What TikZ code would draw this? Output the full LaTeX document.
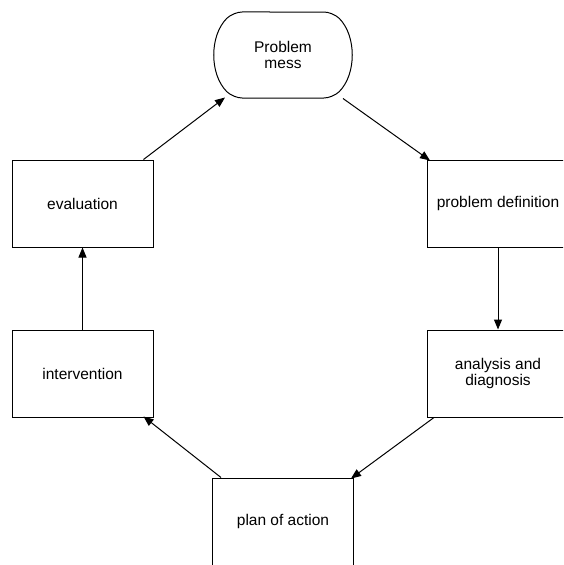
\documentclass[tikz,border=0pt]{standalone}
\usepackage{fontspec}
\setmainfont{Liberation Sans}
\usetikzlibrary{arrows.meta,shapes.misc}

\tikzset{
  stagebox/.style={draw, line width=1pt, minimum width=141pt, minimum height=87pt,
    inner sep=2pt, align=center, font=\fontsize{15.5}{16.5}\selectfont},
  startbox/.style={draw, line width=1pt, rounded rectangle, rounded rectangle arc length=90,
    rounded corners=9pt, minimum width=142pt, minimum height=86pt,
    align=center, font=\fontsize{15.5}{16.5}\selectfont},
  flow/.style={line width=1pt, -{Triangle[length=10pt,width=8pt]}}
}

\begin{document}
\begin{tikzpicture}[x=1pt,y=-1pt]
  \useasboundingbox (0,0) rectangle (563,565);
  \begin{scope}
    \clip (0,0) rectangle (563,565);

    % the cycle of stages
    \node[startbox] (mess)   at (283,55)    {Problem\\mess};
    \node[stagebox] (pdef)   at (498,203.5) {problem definition};
    \node[stagebox] (anal)   at (498,373.5) {analysis and\\diagnosis};
    \node[stagebox] (plan)   at (283,521.5) {plan of action};
    \node[stagebox] (interv) at (82.5,373.5) {intervention};
    \node[stagebox] (eval)   at (82.5,203.5) {evaluation};

    % connectors between stages
    \draw[flow] ([xshift=60pt]mess.south) -- ([xshift=3pt,yshift=-1pt]pdef.north west);
    \draw[flow] (pdef.south) -- (anal.north);
    \draw[flow] ([xshift=7pt]anal.south west) -- ([xshift=-3pt,yshift=-1pt]plan.north east);
    \draw[flow] ([xshift=9pt]plan.north west) -- ([xshift=-10pt,yshift=1pt]interv.south east);
    \draw[flow] (interv.north) -- (eval.south);
    \draw[flow] ([xshift=-10pt]eval.north east) -- ([xshift=-58pt,yshift=1pt]mess.south);
  \end{scope}
\end{tikzpicture}
\end{document}
